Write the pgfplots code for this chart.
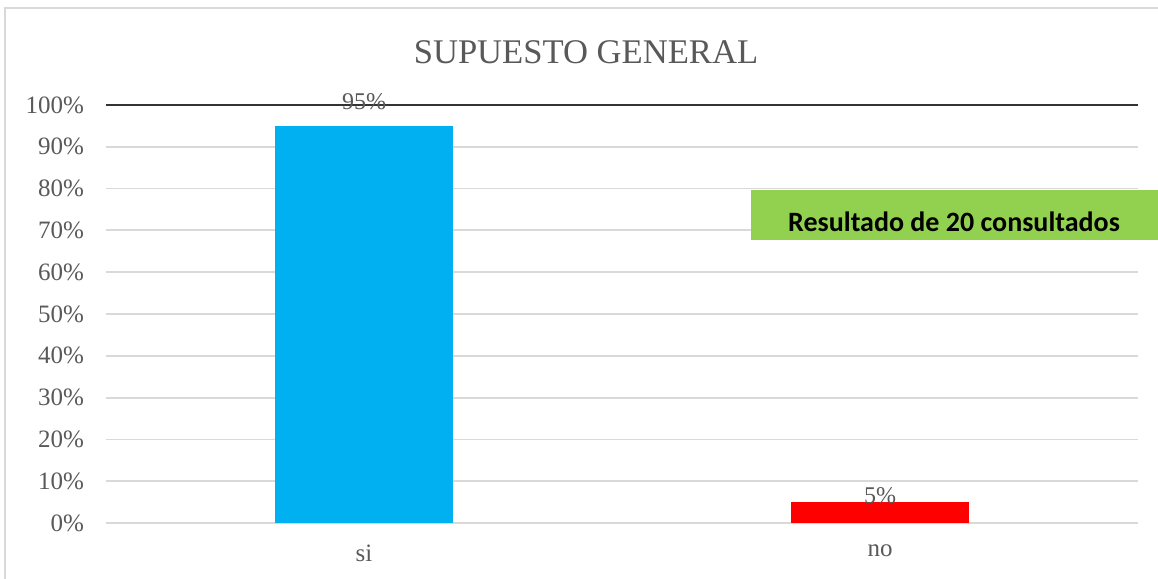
\documentclass[border=0pt]{standalone}
\usepackage{fontspec}
\setmainfont{Liberation Serif}
\newfontfamily\carlito{Carlito}
\usepackage{pgfplots}
\pgfplotsset{compat=1.18}
\definecolor{txtgray}{HTML}{595959}
\definecolor{gridgray}{HTML}{D9D9D9}
\definecolor{barblue}{HTML}{00B0F0}
\definecolor{barred}{HTML}{FF0000}
\definecolor{boxgreen}{HTML}{92D050}

\begin{document}
\begin{tikzpicture}
% page: 1158 x 579 px at 0.5pt per px
\path[use as bounding box] (0pt,0pt) rectangle (579pt,289.5pt);
% chart frame
\draw[gridgray, line width=1pt] (2.5pt,0pt) -- (2.5pt,285.5pt) -- (579pt,285.5pt);
% title
\node[text=txtgray, font=\fontsize{17.3}{20}\selectfont] at (293pt,263.5pt) {SUPUESTO GENERAL};
\begin{axis}[
  at={(53pt,28pt)}, anchor=south west,
  scale only axis, width=516pt, height=209pt,
  xmin=-0.5, xmax=1.5, ymin=0, ymax=100,
  ybar, bar width=89pt, bar shift=0pt,
  xtick={0,1}, xticklabels={si,no},
  ytick={0,10,...,100},
  yticklabels={0\%,10\%,20\%,30\%,40\%,50\%,60\%,70\%,80\%,90\%,100\%},
  tick label style={text=txtgray, font=\fontsize{12.5}{14}\selectfont},
  yticklabel style={xshift=-7.5pt},
  xticklabel style={yshift=-7.5pt},
  major tick length=0pt,
  axis line style={draw=none},
  ymajorgrids, grid style={gridgray, line width=0.9pt},
  /pgf/number format/assume math mode=true,
  nodes near coords={\pgfmathprintnumber{\pgfplotspointmeta}\%},
  every node near coord/.append style={text=txtgray, font=\fontsize{12}{14}\selectfont, anchor=center},
]
\addplot[fill=barblue, draw=none, every node near coord/.append style={yshift=12pt}]
  coordinates {(0,95)};
\addplot[fill=barred, draw=none, every node near coord/.append style={yshift=3pt}]
  coordinates {(1,5)};
\draw[black!80, line width=1pt] (rel axis cs:0,1) -- (rel axis cs:1,1);
\end{axis}
% annotation box
\fill[boxgreen] (375.5pt,169.5pt) rectangle (579pt,194.5pt);
\node[font=\carlito\bfseries\fontsize{14}{16}\selectfont, text=black] at (477pt,178.5pt) {Resultado de 20 consultados};
\end{tikzpicture}
\end{document}
